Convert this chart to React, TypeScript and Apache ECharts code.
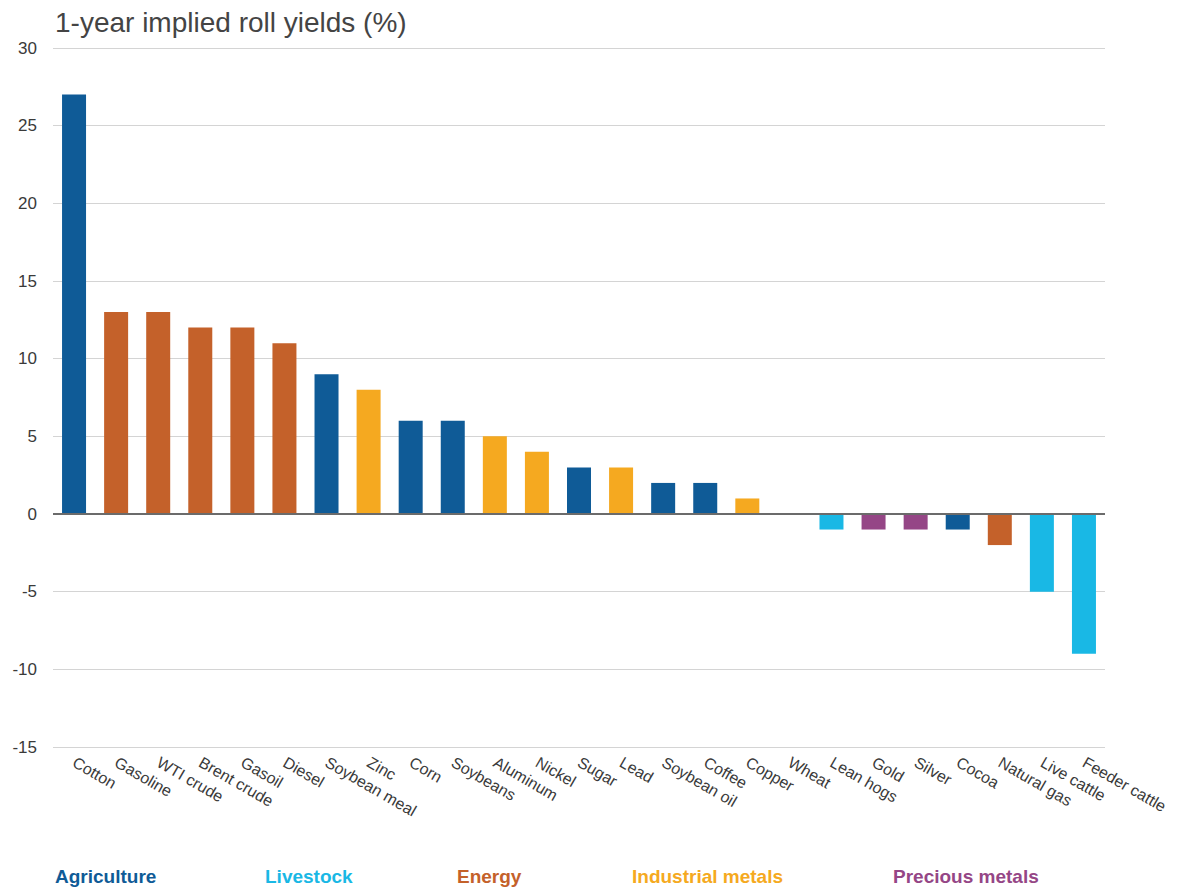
import React, { useEffect, useRef } from "react";
import * as echarts from "echarts";

// Commodity names, in plotted order
const commodities = [
  "Cotton", "Gasoline", "WTI crude", "Brent crude", "Gasoil", "Diesel",
  "Soybean meal", "Zinc", "Corn", "Soybeans", "Aluminum", "Nickel", "Sugar",
  "Lead", "Soybean oil", "Coffee", "Copper", "Wheat", "Lean hogs", "Gold",
  "Silver", "Cocoa", "Natural gas", "Live cattle", "Feeder cattle",
];

// 1-year implied roll yields, %
const rollYields = [
  27, 13, 13, 12, 12, 11, 9, 8, 6, 6, 5, 4, 3, 3, 2, 2, 1, 0, -1, -1, -1, -1, -2, -5, -9,
];

// Sector of each commodity
const sectors = [
  "Agriculture", "Energy", "Energy", "Energy", "Energy", "Energy",
  "Agriculture", "Industrial metals", "Agriculture", "Agriculture",
  "Industrial metals", "Industrial metals", "Agriculture", "Industrial metals",
  "Agriculture", "Agriculture", "Industrial metals", "Agriculture", "Livestock",
  "Precious metals", "Precious metals", "Agriculture", "Energy", "Livestock",
  "Livestock",
];

// Sector legend entries
const sectorNames = ["Agriculture", "Livestock", "Energy", "Industrial metals", "Precious metals"];

const sectorColors: Record<string, string> = {
  Agriculture: "#0f5b97",
  Livestock: "#19b8e5",
  Energy: "#c4612a",
  "Industrial metals": "#f5a920",
  "Precious metals": "#954686",
};

const legendX = [47, 257, 449, 624, 885];

const FONT = "'Liberation Sans', Arial, sans-serif";

export default function App() {
  const ref = useRef<HTMLDivElement>(null);

  useEffect(() => {
    if (!ref.current) return;
    const chart = echarts.init(ref.current, null, { renderer: "svg" });

    chart.setOption({
      animation: false,
      backgroundColor: "#ffffff",
      title: {
        text: "1-year implied roll yields (%)",
        left: 47,
        top: 0,
        padding: 0,
        textStyle: {
          fontFamily: FONT,
          fontSize: 28,
          fontWeight: "normal",
          color: "#444444",
        },
      },
      grid: { left: 45, right: 72, top: 40, bottom: 144, containLabel: false },
      xAxis: {
        type: "category",
        data: commodities,
        axisLine: { show: false },
        axisTick: { show: false },
        axisLabel: {
          interval: 0,
          rotate: -30,
          margin: 14,
          fontFamily: FONT,
          fontSize: 16,
          color: "#3a3a3a",
        },
      },
      yAxis: {
        type: "value",
        min: -15,
        max: 30,
        interval: 5,
        axisLine: { show: false },
        axisTick: { show: false },
        axisLabel: {
          margin: 16,
          fontFamily: FONT,
          fontSize: 17,
          color: "#3a3a3a",
        },
        splitLine: { lineStyle: { color: "#d4d4d4", width: 1 } },
      },
      graphic: sectorNames.map((name, i) => ({
        type: "text",
        left: legendX[i],
        top: 859,
        style: {
          text: name,
          fontFamily: FONT,
          fontSize: 19,
          fontWeight: "bold",
          fill: sectorColors[name],
        },
      })),
      series: [
        {
          type: "bar",
          barWidth: 24,
          data: rollYields.map((v, i) => ({
            value: v,
            itemStyle: { color: sectorColors[sectors[i]] },
          })),
          markLine: {
            silent: true,
            symbol: "none",
            label: { show: false },
            lineStyle: { color: "#6b6b6b", width: 2, type: "solid" },
            data: [{ yAxis: 0 }],
          },
        },
      ],
    });

    return () => chart.dispose();
  }, []);

  return <div ref={ref} style={{ width: 1169, height: 883 }} />;
}
